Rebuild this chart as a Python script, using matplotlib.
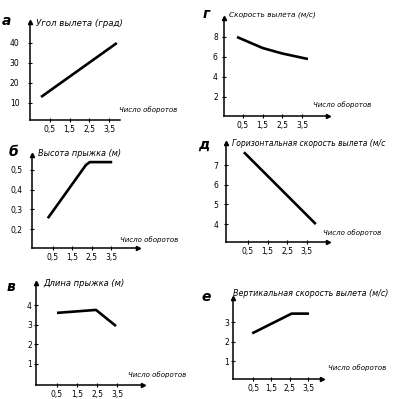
import matplotlib
matplotlib.use("Agg")
import matplotlib.pyplot as plt

W, H = 400, 399

# --- data ---
a_x = [0.05, 3.9]
a_y = [13, 40]
a_yticks = [10, 20, 30, 40]

g_x = [0.2, 1.5, 2.5, 3.8]
g_y = [8.0, 6.9, 6.35, 5.8]
g_yticks = [2, 4, 6, 8]

b_x = [0.25, 2.2, 2.4, 3.55]
b_y = [0.255, 0.525, 0.54, 0.54]
b_yticks = [0.2, 0.3, 0.4, 0.5]

d_x = [0.3, 3.95]
d_y = [7.65, 4.0]
d_yticks = [4, 5, 6, 7]

v_x = [0.5, 2.45, 3.45]
v_y = [3.6, 3.75, 2.93]
v_yticks = [1, 2, 3, 4]

e_x = [0.45, 2.6, 3.55]
e_y = [2.42, 3.43, 3.43]
e_yticks = [1, 2, 3]

xticks = [0.5, 1.5, 2.5, 3.5]
xlabel = "Число оборотов"


def fmt(v):
    s = ("%g" % v).replace(".", ",")
    return s


fig = plt.figure(figsize=(W / 100, H / 100), dpi=100)
fig.patch.set_facecolor("white")


def panel(box, xlim, ylim, xs, ys, yticks, ypad, title, tpos, tsize, letter, lpos, xlpos, xarrow=True):
    left, top, right, bottom = box
    ax = fig.add_axes([left / W, 1 - bottom / H, (right - left) / W, (bottom - top) / H])
    ax.set_xlim(*xlim)
    ax.set_ylim(*ylim)
    ax.plot(xs, ys, color="black", lw=1.9, solid_capstyle="butt")
    for s in ["top", "right"]:
        ax.spines[s].set_visible(False)
    for s in ["left", "bottom"]:
        ax.spines[s].set_linewidth(1.1)
    ax.set_xticks(xticks)
    ax.set_xticklabels([fmt(t) for t in xticks], fontsize=5.5)
    ax.set_yticks(yticks)
    ax.set_yticklabels([fmt(t) for t in yticks], fontsize=5.5)
    ax.tick_params(axis="x", direction="inout", length=3, width=0.8, pad=2)
    ax.tick_params(axis="y", direction="inout", length=3, width=0.8, pad=ypad)
    ax.plot(0, 1, "^", color="black", ms=3, transform=ax.transAxes, clip_on=False)
    if xarrow:
        ax.plot(1, 0, ">", color="black", ms=3, transform=ax.transAxes, clip_on=False)
    ax.set_facecolor("none")
    fig.text(tpos[0] / W, 1 - tpos[1] / H, title, fontsize=tsize, style="italic",
             ha="left", va="center")
    fig.text(xlpos[0] / W, 1 - xlpos[1] / H, xlabel, fontsize=5.0, style="italic",
             ha="left", va="center")
    fig.text(lpos[0] / W, 1 - lpos[1] / H, letter, fontsize=10, style="italic",
             weight="bold", ha="center", va="center")
    return ax


panel((30, 22, 120, 120), (-0.51, 4.06), (1.5, 50.5), a_x, a_y, a_yticks, 6,
      "Угол вылета (град)", (36, 23), 6.2, "а", (6, 21), (119, 110), xarrow=False)

panel((224, 18, 328, 116), (-0.46, 4.82), (0.1, 9.9), g_x, g_y, g_yticks, 3,
      "Скорость вылета (м/с)", (229, 15), 5.3, "г", (206, 14), (313, 105))

panel((32, 155, 138, 248), (-0.56, 4.87), (0.104, 0.576), b_x, b_y, b_yticks, 5,
      "Высота прыжка (м)", (38, 154), 5.9, "б", (14, 152), (120, 240))

panel((226, 143, 328, 242), (-0.61, 4.57), (3.09, 8.12), d_x, d_y, d_yticks, 4,
      "Горизонтальная скорость вылета (м/с", (232, 143), 5.5, "д", (204, 145), (323, 233))

panel((36, 283, 143, 385), (-0.55, 4.8), (-0.07, 5.12), v_x, v_y, v_yticks, 1.5,
      "Длина прыжка (м)", (43, 284), 6.0, "в", (11, 287), (128, 375))

panel((233, 298, 322, 379), (-0.6, 4.26), (0.08, 4.23), e_x, e_y, e_yticks, 1.5,
      "Вертикальная скорость вылета (м/с)", (233, 293), 5.8, "е", (206, 297), (328, 368))

fig.savefig("out.png", dpi=100, facecolor="white")
